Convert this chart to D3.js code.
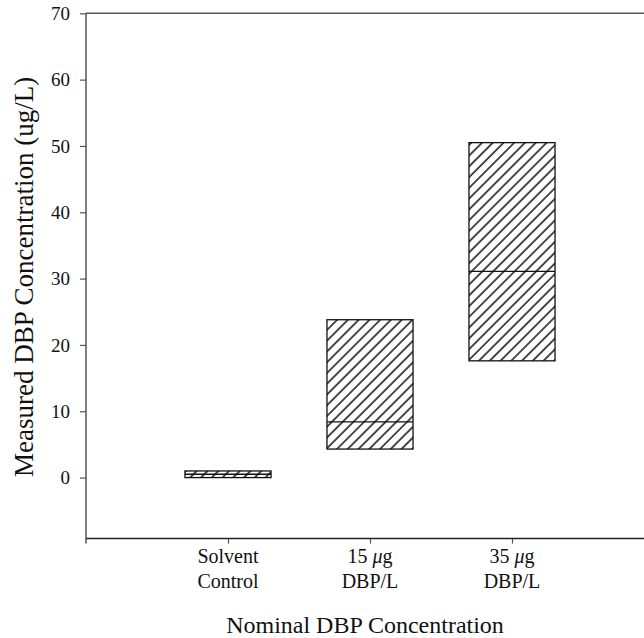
<!DOCTYPE html>
<html>
<head>
<meta charset="utf-8">
<script src="https://cdn.jsdelivr.net/npm/d3@7"></script>
<style>
  body { margin: 0; background: #fff; }
  svg { display: block; }
  text { font-family: "Liberation Serif", "Times New Roman", serif; fill: #111; }
</style>
</head>
<body>
<svg id="chart" width="644" height="638"></svg>
<script>
// ---- data ----
const categories = [["Solvent", "Control"], ["15 μg", "DBP/L"], ["35 μg", "DBP/L"]];
const categoryPositions = [1, 2, 3];
const q1Values = [0.0, 4.3, 17.6];
const medianValues = [0.5, 8.4, 31.1];
const q3Values = [1.0, 23.8, 50.5];
const yTicks = [0, 10, 20, 30, 40, 50, 60, 70];
const xTitle = "Nominal DBP Concentration";
const yTitle = "Measured DBP Concentration (ug/L)";

// ---- layout ----
const svg = d3.select("#chart");
const x = d3.scaleLinear().domain([0, 4]).range([86, 654]);
const y = d3.scaleLinear().domain([-9.2, 70]).range([538.6, 13.3]);
const halfW = 0.303;

// hatch pattern
const defs = svg.append("defs");
const pat = defs.append("pattern")
  .attr("id", "hatch")
  .attr("patternUnits", "userSpaceOnUse")
  .attr("width", 7.6).attr("height", 7.6)
  .attr("patternTransform", "rotate(45)");
pat.append("rect").attr("width", 7.6).attr("height", 7.6).attr("fill", "#fff");
pat.append("line").attr("x1", 1).attr("y1", 0).attr("x2", 1).attr("y2", 7.6)
  .attr("stroke", "#000").attr("stroke-width", 1.4);

// frame top line
svg.append("line")
  .attr("x1", x(0)).attr("x2", 644)
  .attr("y1", y(70)).attr("y2", y(70))
  .attr("stroke", "#555").attr("stroke-width", 1.5);

// y axis
const yAxis = svg.append("g")
  .attr("transform", `translate(${x(0)},0)`)
  .call(d3.axisLeft(y).tickValues(yTicks).tickSize(6).tickPadding(10).tickFormat(d3.format("d")));
yAxis.select(".domain").remove();
yAxis.append("line").attr("x1", 0).attr("x2", 0)
  .attr("y1", y(70)).attr("y2", y(-9.2) + 5)
  .attr("stroke", "#555").attr("stroke-width", 1.5);
yAxis.selectAll(".tick line").attr("stroke", "#555").attr("stroke-width", 1.2);
yAxis.selectAll(".tick text")
  .style("font-family", "'Liberation Serif', serif").style("font-size", "19px").attr("fill", "#111");

// x axis
const xAxis = svg.append("g")
  .attr("transform", `translate(0,${y(-9.2)})`)
  .call(d3.axisBottom(x).tickValues(categoryPositions).tickSize(5).tickFormat(""));
xAxis.select(".domain").remove();
xAxis.append("line").attr("x1", x(0)).attr("x2", 644).attr("y1", 0).attr("y2", 0)
  .attr("stroke", "#222").attr("stroke-width", 1.5);
xAxis.selectAll(".tick line").attr("stroke", "#555").attr("stroke-width", 1.2);

// x tick labels (two lines)
categories.forEach((lines, i) => {
  const t = svg.append("text")
    .attr("x", x(categoryPositions[i]))
    .attr("y", y(-9.2) + 24)
    .attr("text-anchor", "middle")
    .style("font-size", "20px");
  lines.forEach((ln, j) => {
    const ts = t.append("tspan").attr("x", x(categoryPositions[i])).attr("dy", j === 0 ? 0 : 25);
    if (ln.includes("μ")) {
      const parts = ln.split("μ");
      ts.append("tspan").text(parts[0]);
      ts.append("tspan").style("font-style", "italic").text("μ");
      ts.append("tspan").text(parts[1]);
    } else {
      ts.text(ln);
    }
  });
});

// boxes
const boxes = svg.append("g");
categoryPositions.forEach((c, i) => {
  boxes.append("rect")
    .attr("x", x(c - halfW))
    .attr("width", x(c + halfW) - x(c - halfW))
    .attr("y", y(q3Values[i]))
    .attr("height", y(q1Values[i]) - y(q3Values[i]))
    .attr("fill", "url(#hatch)")
    .attr("stroke", "#111").attr("stroke-width", 1.3);
  boxes.append("line")
    .attr("x1", x(c - halfW)).attr("x2", x(c + halfW))
    .attr("y1", y(medianValues[i])).attr("y2", y(medianValues[i]))
    .attr("stroke", "#111").attr("stroke-width", 1.3);
});

// titles
svg.append("text")
  .attr("x", 365).attr("y", 633)
  .attr("text-anchor", "middle")
  .style("font-size", "24px")
  .text(xTitle);

svg.append("text")
  .attr("transform", `translate(33,${(y(70) + y(-9.2)) / 2 + 1}) rotate(-90)`)
  .attr("text-anchor", "middle")
  .style("font-size", "27px")
  .text(yTitle);
</script>
</body>
</html>
